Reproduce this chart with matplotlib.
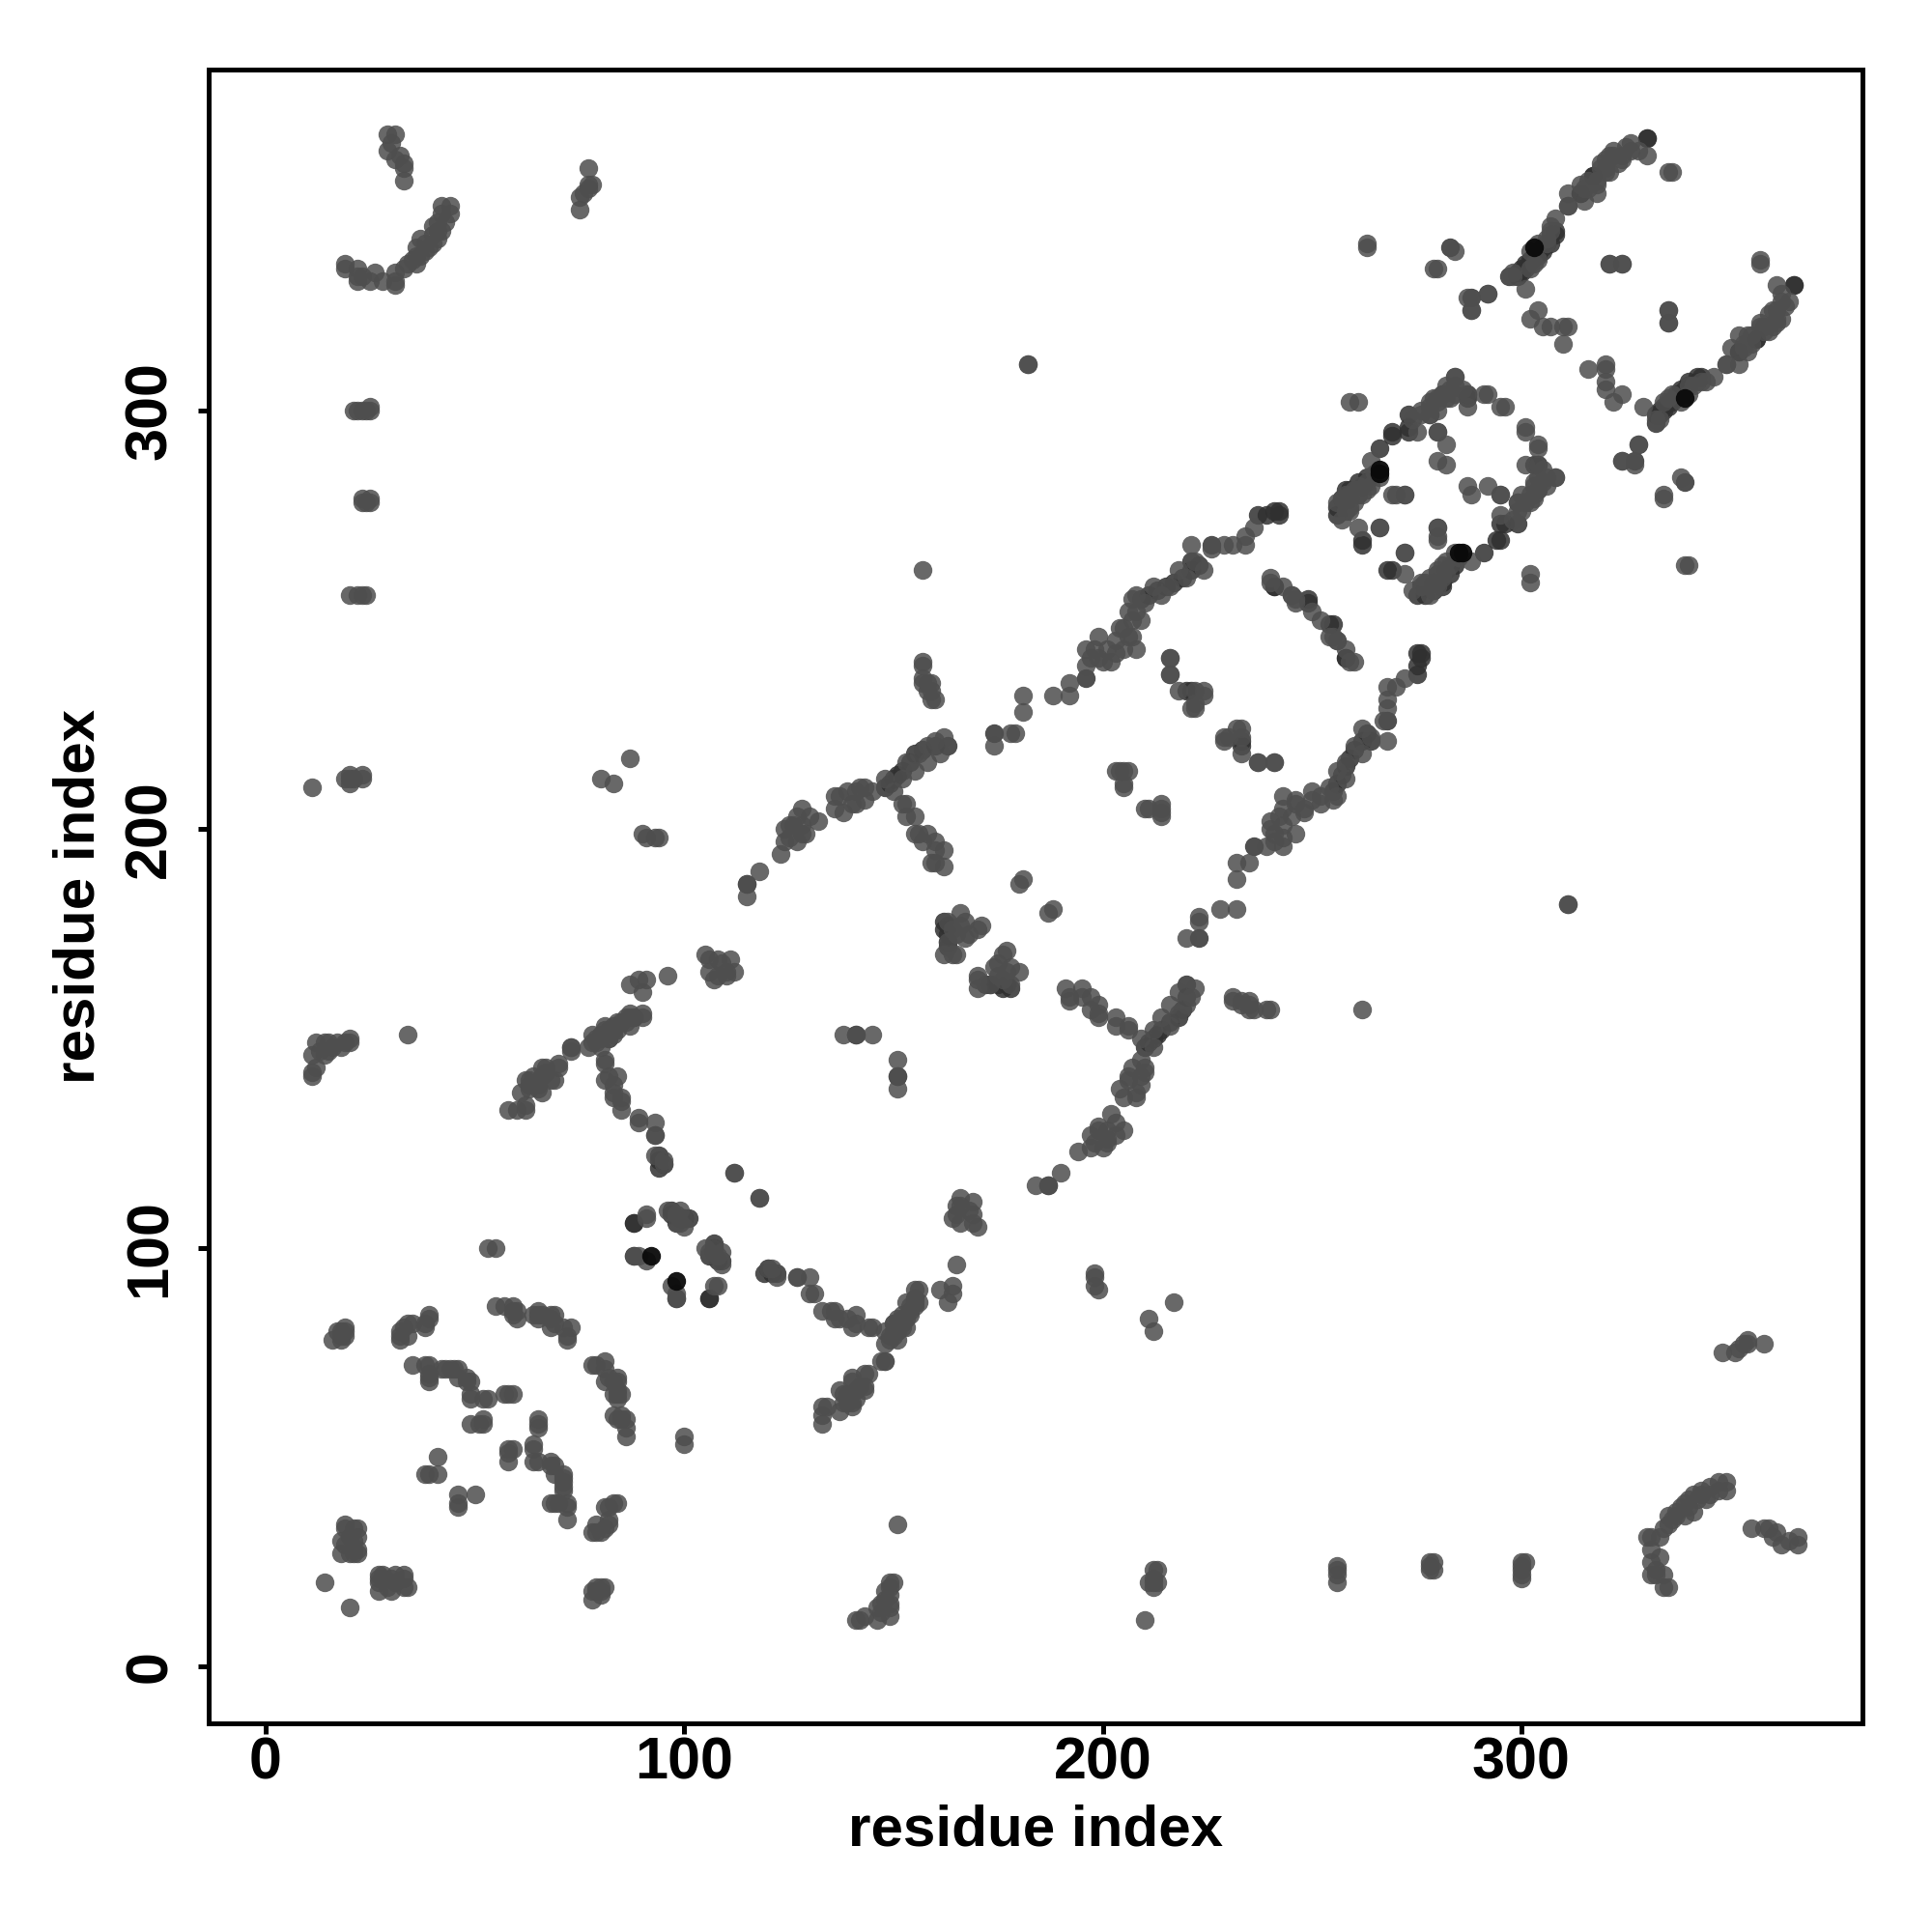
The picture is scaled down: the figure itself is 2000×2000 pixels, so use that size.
import matplotlib
matplotlib.use("Agg")
import matplotlib.pyplot as plt

tick_values = [0, 100, 200, 300]
axis_title = "residue index"

# Contacts as (residue i, residue j); the map is symmetric
far_terminal = [(29,366),(31,366),(30,364),(29,362),(32,361),(33,359),(31,360),(33,358),(33,355),
    (19,334),(22,334),(23,332),(22,331),(25,331),(28,331),(31,330),(31,333),(33,334),(34,335),(35,336),
    (36,337),(36,339),(37,341),(38,340),(40,342),(41,343),(41,345),(42,347),(42,349),(44,349),
    (36,335),(37,337),(38,338),(39,339),(40,340),(41,341),(42,343),(43,345),(44,347),(40,344),
    (75,348),(75,351),(76,352),(77,354),(77,358),(78,354),(77,353),
    (21,300),(22,300),(23,300),(24,300),(25,300),(23,279),(24,278),(25,278),(20,256),(23,256),(24,256),
    (19,212),(20,212),(23,212),(20,211),(11,142),(11,146),(12,143),(13,147),(14,149),(15,147),
    (16,148),(17,149),(18,148),(19,149),(20,149),(34,151),(17,80),(18,80),(19,80),(19,81),
    (14,20),(18,27),(18,30),(19,33),(20,31),(21,30),(22,31),(21,27),(22,28),(19,29),(20,27),(21,33),
    (18,78),(18,79),(19,79),(16,78),(22,27),(21,28),(22,33),(19,34),(11,210)]
n_domain = [(32,79),(33,81),(34,79),(34,82),(35,82),(38,82),(39,83),(39,84),
    (35,72),(38,72),(39,72),(39,69),(43,71),(45,71),(46,69),(48,68),(49,65),(52,64),(57,65),(58,65),(59,65),
    (49,58),(51,58),(52,58),(57,86),(59,85),(59,84),(59,86),(64,84),(65,84),(65,83),(68,84),(69,82),(72,79),(73,81),
    (72,78),(71,81),(68,81),(68,83),(69,84),(66,84),(65,85),(60,83),(60,85),(55,86),
    (52,59),(53,64),(49,64),(49,68),(48,69),(46,71),(44,71),(42,71),
    (39,68),(39,70),(38,46),(39,46),(41,46),(41,50),
    (32,78),(32,80),(38,81),(55,100),(53,100),
    (11,141),(14,146),(15,149),(12,149),(20,150),
    (21,212),(20,213),(23,213),(22,256),(23,278),(25,279),(22,300),(25,301),
    (31,331),(25,331),(22,332),(26,333),(19,335)]
middle_band = [(58,133),(60,133),(62,133),(61,137),(63,138),(63,140),(65,139),(66,141),(66,143),(69,140),(70,143),(73,147),
    (77,148),(79,149),(80,150),(81,151),(83,152),(86,155),(88,155),(90,155),(90,161),(89,164),(91,164),(87,163),(96,165),
    (78,151),(82,150),(84,152),(85,154),(87,153),
    (81,144),(81,140),(83,139),(83,136),(85,135),(89,130),(93,130),(93,127),(93,122),
    (96,109),(98,107),(99,106),(105,100),(107,100),(108,98),(109,99),
    (91,107),(88,98),(91,97),(98,89),(108,91),(112,118),(118,112),
    (62,134),(66,137),(65,138),(63,139),(62,140),(68,140),(64,141),(67,142),(67,143),(70,144),(73,148),
    (80,148),(78,149),(80,151),(82,152),(83,153),(84,154),(87,155),(90,156),(79,150),(81,152),
    (150,82),(151,83),(153,81),(154,86),(155,88),(156,87),
    (115,187),(115,184),(118,190),(123,194),(124,197),(125,198),(124,200),(126,201),(128,199),(128,201),(130,203),(128,205),
    (125,201),(127,197),(127,203),(129,199),(132,202),
    (136,205),(137,208),(138,204),(140,206),(141,209),(142,210),(143,207),(145,209),
    (136,208),(139,209),(141,206),(143,210),
    (148,212),(150,209),(152,212),(153,216),(155,214),(156,218),(158,216),(160,221),(158,220),(161,218),(162,222),
    (153,206),(155,203),(156,199),(158,199),(159,192),(160,197),(162,195),(162,191),
    (157,239),(157,235),(158,233),(159,235),(159,231),(160,231),(157,262),(164,176),(164,170),(165,170),
    (167,174),(167,178),(170,176),(170,162),(173,163),(175,165),(175,168),(177,171),(178,163),(177,166),(180,166),
    (182,311),(174,220),(178,223),(179,223),(181,232),(181,228),(188,232),(192,232),(192,235),(196,239),
    (196,243),(198,243),(199,246),(200,240),(202,240),(203,245),(204,248),(206,246),(207,250),(208,243),(208,252),(207,255),
    (197,241),(199,241),(201,243),(203,242),(205,248),(207,246),(209,250),(206,252),(205,243),
    (208,256),(210,254),(212,258),(214,256),(216,258),(218,262),(220,260),(222,264),(224,262),
    (216,241),(216,237),(218,233),(222,233),(224,232),(221,229),(222,230),(229,222),(233,224),(237,216),(241,216),
    (181,188),(180,187),(203,214),(206,214),(205,210),(211,205),(214,205),(214,204),
    (80,212),(83,211),(87,217),(90,199),(91,198),(93,198),(94,198),(233,159),(240,157),(235,158),(236,157),
    (192,160),(195,160),(197,157),(199,155),(203,153),(206,152),(120,95),(121,95),
    (127,93),(131,89),(133,85),(137,83),(136,85),(141,82),(141,84),(145,81),(148,73),
    (138,151),(141,151),(145,151),(105,170),(106,169),(107,164),(108,165),(108,169),(110,166),(111,169),(112,166),
    (110,165),(106,166),(109,168),(221,268),(226,267),(229,268),(231,268),(234,270),(234,268),(236,272),
    (240,259),(245,256),(246,254),(250,252),(255,246),(256,245),(258,243),(260,240)]
c_domain = [(257,279),(258,276),(259,280),(260,281),(261,282),(266,272),(272,266),(272,261),
    (259,276),(260,278),(262,280),(263,281),(256,278),
    (276,299),(278,299),(280,302),(282,303),(283,305),(284,306),
    (277,259),(279,259),(281,261),(283,263),(285,265),(274,257),
    (300,276),(302,278),(303,280),(304,284),(305,286),(303,283),(306,282),(300,280),
    (280,258),(280,272),(280,270),(280,288),(280,295),(274,298),(278,301),(281,304),
    (284,308),(287,304),(292,304),(296,301),(301,295),(304,291),(301,287),(308,284),(304,281),(299,278),
    (287,282),(292,282),(295,280),(272,280),(269,280),(259,302),(261,302),(263,340),(280,334),
    (284,338),(287,327),(288,324),(292,328),(298,332),(306,340),(311,349),(320,360),(326,364),(330,361),(336,357),
    (315,350),(316,355),(318,354),(319,358),(321,357),(322,361),(323,359),(326,362),(328,362),
    (334,302),(336,304),(338,302),(340,304),(341,306),(344,307),(346,308),
    (321,335),(324,335),(335,324),(335,321),(305,320),(310,316),(320,311),
    (320,307),(324,304),(329,301),(333,298),(343,307),(349,311),(353,316),(358,320),(361,324),(357,335),
    (324,288),(328,292),(334,279),(339,263),(311,182),(302,322),(310,320),(352,311),(354,314),(355,318),(357,320),
    (359,319),(361,321),(362,322),(360,324),(363,325),(318,352),(315,353),(303,335),(279,303),(275,295),(264,288),(282,264),(284,266)]
strong_contacts = [(148,210),(149,211),(150,212),(151,213),(152,214),(154,216),(155,218),(157,219),(160,220),(163,220),
    (237,275),(239,275),(241,276),(242,276),(242,275),(211,256),(213,257),(215,258),(217,259),(219,260),(221,262),(223,263),(209,255),
    (226,268),(221,264),(299,332),(300,333),(301,334),(302,335),(304,337),(305,338),(307,340),(308,342),(308,343),
    (314,352),(317,356),(330,365),(332,297),(333,299),(334,300),(335,301),(336,302),(337,303),(338,304),(339,305),(340,306),(342,307),
    (352,314),(356,317),(365,330),(327,288),(339,283),(94,121),(95,120),(94,119),(101,107),(99,107),(97,108),
    (107,100),(109,97),(106,98),(88,106),(88,98),(106,88),(122,94),(151,141),(163,177),(163,173),(163,172),(162,176),(174,223),
    (196,236),(220,233),(221,233),(249,255),(254,249),(258,241),(241,258),(262,268),(262,269),(273,299),(273,296),(269,295),
    (266,291),(287,304),(287,303),(273,295),(269,294),(258,277),(259,279),(261,280),(262,282),(263,283),(258,281),
    (275,256),(277,256),(279,257),(281,259),(283,261),(284,263),(178,162),(175,163),(115,187)]
darkest_contacts = [(266,286),(266,285),(92,98),(303,339)]

def dedupe(pairs):
    return list(dict.fromkeys(pairs))

base = dedupe(far_terminal + n_domain + middle_band + c_domain)
strong = dedupe(strong_contacts)
darkest = dedupe(darkest_contacts)

plt.rcParams['font.family'] = ['Liberation Sans', 'DejaVu Sans']
plt.rcParams['font.weight'] = 'bold'
fig = plt.figure(figsize=(20, 20), dpi=100)
ax = fig.add_axes([216/2000, 1-1784/2000, (1928-216)/2000, (1784-71.5)/2000])
for pairs, grey, a, z in [(strong, '#303030', 0.85, 3), (base, '#4e4e4e', 0.85, 4), (darkest, '#0a0a0a', 0.95, 5)]:
    i = [p[0] for p in pairs]
    j = [p[1] for p in pairs]
    ax.scatter(i + j, j + i, s=195, c=grey, alpha=a, linewidths=0, zorder=z)
ax.set_xlim(-13.6, 381.5)
ax.set_ylim(-13.6, 381.6)
ax.set_xticks(tick_values)
ax.set_yticks(tick_values)
ax.set_xticklabels([str(v) for v in tick_values], fontsize=44, fontweight='bold')
ax.set_yticklabels([str(v) for v in tick_values], fontsize=44, fontweight='bold', rotation=90, va='center')
ax.tick_params(axis='x', length=8, width=3.6, pad=2)
ax.tick_params(axis='y', length=8, width=3.6, pad=14.5)
for s in ax.spines.values():
    s.set_linewidth(3.6)
ax.set_xlabel(axis_title, fontsize=43.3, fontweight='bold', labelpad=9)
ax.set_ylabel(axis_title, fontsize=43.3, fontweight='bold', labelpad=13)
fig.savefig('out.png', dpi=100)
